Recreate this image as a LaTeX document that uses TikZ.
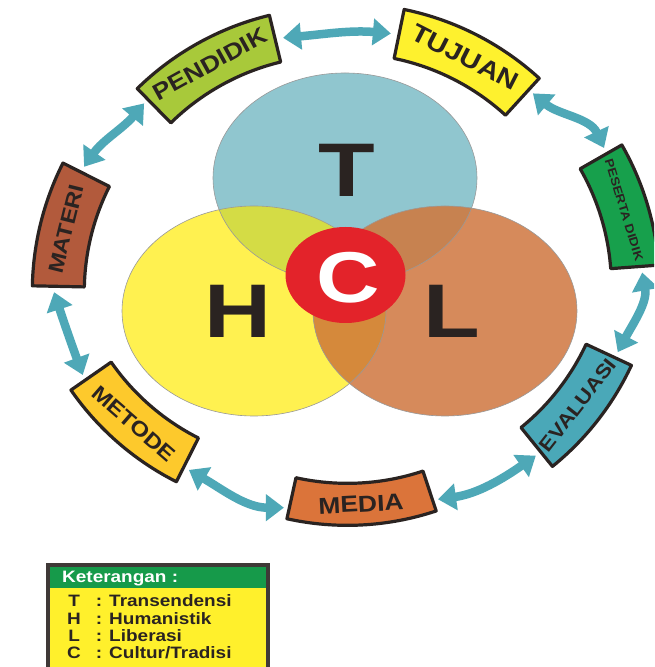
\documentclass[tikz,border=0pt]{standalone}
\usepackage{fontspec}
\setmainfont{Liberation Sans}[FakeStretch=1.15]
\newfontfamily\vennfont{Liberation Sans}[FakeStretch=1.22]
\usepackage{tikz}
\usetikzlibrary{arrows.meta, calc}
\usepackage{xcolor}
\definecolor{ringteal}{HTML}{4EA8B7}
\definecolor{inkdark}{HTML}{2A2321}
\definecolor{bandlime}{HTML}{A8C93A}
\definecolor{bandyellow}{HTML}{FEF12E}
\definecolor{bandgreen}{HTML}{17A04C}
\definecolor{bandteal}{HTML}{4AA8B8}
\definecolor{bandorange}{HTML}{DB743A}
\definecolor{bandgold}{HTML}{FDC92C}
\definecolor{bandbrown}{HTML}{B25A3C}
\definecolor{venntop}{HTML}{90C6CF}
\definecolor{vennleft}{HTML}{FFF150}
\definecolor{vennright}{HTML}{D68A5B}
\definecolor{vennTH}{HTML}{D4DC45}
\definecolor{vennTL}{HTML}{C78250}
\definecolor{vennHL}{HTML}{D5893B}
\definecolor{hubred}{HTML}{E3232A}
\definecolor{legendyellow}{HTML}{FFF02C}
\definecolor{legendgreen}{HTML}{169A4A}

\newcommand{\ringrad}{260}
% curved label band: [font size]{name}{centre}{rotation}{length}{thickness}{side}{colour}{text}
\newcommand{\banner}[9][24]{%
  \begin{scope}[shift={#3}, rotate=#4]
    \pgfmathsetmacro\bnHalf{#5/2/\ringrad*180/pi}
    \pgfmathsetmacro\bnOut{\ringrad+#6/2}
    \pgfmathsetmacro\bnIn{\ringrad-#6/2}
    \pgfmathsetmacro\bnMid{90*#7}
    \pgfmathsetmacro\bnSx{\bnOut*cos(\bnMid+\bnHalf)}
    \pgfmathsetmacro\bnSy{0-(#7)*\ringrad+\bnOut*sin(\bnMid+\bnHalf)}
    \draw[bannerframe, fill=#8] (\bnSx,\bnSy)
      arc[start angle=\bnMid+\bnHalf, end angle=\bnMid-\bnHalf, radius=\bnOut]
      -- ++({\bnMid-\bnHalf+180}:#6)
      arc[start angle=\bnMid-\bnHalf, end angle=\bnMid+\bnHalf, radius=\bnIn]
      -- cycle;
  \end{scope}
  \node[bannerlabel, rotate=#4, minimum width=#5pt, minimum height=#6pt,
        font=\bfseries\fontsize{#1}{#1}\selectfont] (#2) at #3 {#9};
}

\tikzset{
  bannerframe/.style={draw=inkdark, line width=3.2pt, line join=round},
  bannerlabel/.style={inner sep=0pt, text=inkdark},
  ringarrow/.style={ringteal, line width=8.5pt,
    {Triangle[width=26pt,length=18pt]}-{Triangle[width=26pt,length=18pt]},
    shorten <=7pt, shorten >=7pt},
  vennline/.style={draw=black!40, line width=0.6pt},
  vennsize/.style={x radius=132, y radius=105},
  bigletter/.style={font=\vennfont\bfseries\fontsize{76}{76}\selectfont, text=inkdark}
}

\begin{document}
\begin{tikzpicture}[x=1pt, y=1pt]
  \useasboundingbox (0,0) rectangle (654,667);
  \clip (0,0) rectangle (654,667);
  \fill[white] (0,0) rectangle (654,667);

  % three overlapping circles
  \coordinate (tc) at (345,489);
  \coordinate (hc) at (254,356);
  \coordinate (lc) at (445,356);
  \fill[venntop] (tc) ellipse [vennsize];
  \fill[vennleft] (hc) ellipse [vennsize];
  \fill[vennright] (lc) ellipse [vennsize];
  \begin{scope}
    \clip (tc) ellipse [vennsize];
    \fill[vennTH] (hc) ellipse [vennsize];
    \fill[vennTL] (lc) ellipse [vennsize];
  \end{scope}
  \begin{scope}
    \clip (hc) ellipse [vennsize];
    \fill[vennHL] (lc) ellipse [vennsize];
  \end{scope}
  \draw[vennline] (tc) ellipse [vennsize];
  \draw[vennline] (hc) ellipse [vennsize];
  \draw[vennline] (lc) ellipse [vennsize];
  \fill[hubred] (345.5,392) ellipse [x radius=60, y radius=48];

  \node[bigletter] (tletter) at (347,497) {T};
  \node[bigletter] (hletter) at (238,356) {H};
  \node[bigletter] (lletter) at (452,356) {L};
  \node[font=\vennfont\bfseries\fontsize{72}{72}\selectfont, text=white] (cletter) at (348,389) {C};

  % labels round the ring
  \banner[23]{pendidik}{(210,603)}{29}{140}{48}{1}{bandlime}{PENDIDIK}
  \banner[25]{tujuan}{(465,610)}{-27}{140}{50}{1}{bandyellow}{TUJUAN}
  \banner[12]{peserta}{(624,457)}{-73}{116}{48}{1}{bandgreen}{PESERTA DIDIK}
  \banner[19.5]{evaluasi}{(578,262)}{52}{118}{50}{-1}{bandteal}{EVALUASI}
  \banner[23]{media}{(361,163)}{3}{140}{42}{-1}{bandorange}{MEDIA}
  \banner[21]{metode}{(134,243)}{-41}{129}{49}{-1}{bandgold}{METODE}
  \banner[21]{materi}{(66,438)}{76}{116}{52}{1}{bandbrown}{MATERI}

  \draw[ringarrow] ($(pendidik.east)!0.4!(pendidik.south east)$) to[out=5, in=175]
    ($(tujuan.west)!0.4!(tujuan.south west)$);
  \draw[ringarrow] (tujuan.east) to[out=-40, in=115] (peserta.west);
  \draw[ringarrow] (peserta.east) to[out=-80, in=62] (evaluasi.east);
  \draw[ringarrow] (evaluasi.west) to[out=-145, in=8] (media.east);
  \draw[ringarrow] (media.west) to[out=180, in=-30] (metode.east);
  \draw[ringarrow] (metode.west) to[out=110, in=-72] (materi.west);
  \draw[ringarrow] (materi.east) to[out=55, in=-130] (pendidik.west);

  % legend
  \draw[fill=legendyellow, draw=inkdark!90, line width=4pt] (48,-10) rectangle (268,102);
  \fill[legendgreen] (50,79) rectangle (266,100);
  \node[anchor=base west, inner sep=0pt, text=white,
        font=\bfseries\fontsize{16.5}{16.5}\selectfont] (legendhead) at (62,84) {Keterangan :};
  \node[anchor=base west, inner sep=0pt, text=inkdark,
        font=\bfseries\fontsize{16.5}{17.3}\selectfont] (legendbody) at (67,60) {%
    \begin{tabular}[t]{@{}c@{\hspace{15pt}}l@{}}
      T & : Transendensi\\
      H & : Humanistik\\
      L & : Liberasi\\
      C & : Cultur/Tradisi
    \end{tabular}};
\end{tikzpicture}
\end{document}
